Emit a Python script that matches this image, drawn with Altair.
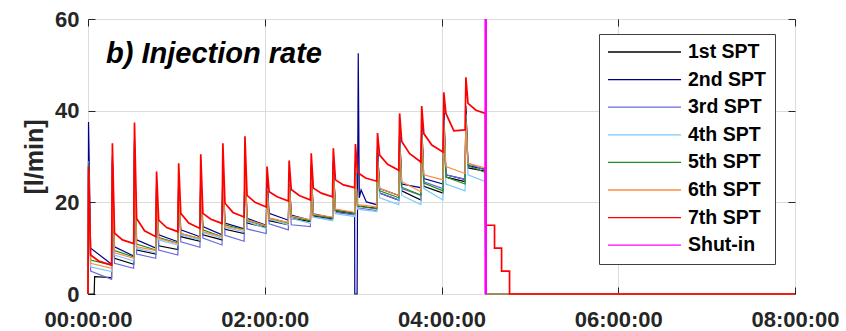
import altair as alt
import pandas as pd

FONT = "Liberation Sans"
TITLE = "b) Injection rate"

SERIES = ["1st SPT", "2nd SPT", "3rd SPT", "4th SPT", "5th SPT", "6th SPT", "7th SPT", "Shut-in"]
COLORS = ["#000000", "#00008b", "#6a6ae0", "#7fc8ff", "#1e8c1e", "#ff8a3d", "#ff0000", "#ff00ff"]

# times (hours) of the pressure steps
SPIKE_T = [0.00, 0.27, 0.52, 0.77, 1.02, 1.27, 1.52, 1.77, 2.02, 2.27, 2.52, 2.77, 3.02, 3.27, 3.52, 3.77, 4.02, 4.27]
SHUT_IN_T = 4.50
END_T = 8.00

# peak rate at each step [l/min]
PEAK_1 = [0.0, 30.0, 33.5, 24.0, 25.5, 27.5, 29.5, 31.0, 25.0, 26.5, 28.0, 29.0, 28.5, 32.0, 36.0, 38.0, 40.5, 41.0]
PEAK_2 = [37.5, 29.0, 32.5, 23.5, 25.0, 26.8, 29.0, 30.5, 24.5, 26.0, 27.5, 28.5, 52.5, 31.5, 35.0, 37.0, 39.5, 40.0]
PEAK_3 = [29.0, 28.0, 31.5, 22.5, 24.0, 26.0, 28.0, 29.5, 23.5, 25.0, 26.5, 27.5, 27.5, 30.5, 34.0, 36.0, 38.5, 39.5]
PEAK_4 = [27.0, 27.0, 30.5, 22.0, 23.5, 25.5, 27.5, 29.0, 23.0, 24.5, 26.0, 27.0, 27.0, 30.0, 33.5, 35.5, 38.0, 39.0]
PEAK_5 = [28.5, 26.0, 29.5, 21.5, 23.0, 24.5, 26.5, 28.0, 22.5, 24.0, 25.5, 26.5, 26.5, 29.5, 33.0, 35.0, 37.5, 38.5]
PEAK_6 = [26.0, 25.0, 28.5, 21.0, 22.5, 24.0, 26.0, 27.5, 22.0, 23.5, 25.0, 26.0, 26.0, 29.0, 32.5, 34.5, 37.0, 37.5]
PEAK_7 = [27.8, 32.9, 37.4, 26.7, 28.5, 30.5, 32.9, 34.4, 27.8, 29.1, 30.7, 31.8, 32.7, 35.1, 39.4, 41.0, 44.0, 47.3]

# rate just after each step
START_1 = [3.8, 7.8, 9.6, 10.5, 12.5, 12.9, 14.1, 15.5, 16.0, 16.5, 17.0, 18.0, 19.2, 22.0, 22.5, 23.5, 25.5, 27.5]
START_2 = [10.0, 10.3, 11.8, 12.9, 14.0, 14.7, 15.5, 16.5, 17.6, 17.2, 17.5, 18.3, 22.7, 23.0, 24.0, 25.2, 26.0, 28.0]
START_3 = [5.0, 6.7, 8.7, 9.6, 11.4, 12.2, 12.8, 14.2, 15.3, 15.1, 16.8, 17.8, 18.8, 22.0, 23.0, 24.5, 26.0, 28.5]
START_4 = [5.9, 8.5, 10.0, 11.8, 12.9, 13.4, 14.5, 15.8, 16.3, 16.5, 16.8, 17.5, 18.5, 21.0, 21.5, 23.0, 24.0, 26.0]
START_5 = [7.4, 9.5, 10.9, 12.3, 13.2, 14.0, 15.1, 16.0, 16.5, 16.9, 17.2, 18.2, 19.2, 22.5, 23.3, 24.2, 25.5, 28.0]
START_6 = [6.7, 9.0, 10.3, 12.1, 13.2, 13.6, 14.7, 16.2, 16.6, 17.0, 17.4, 18.5, 19.5, 23.0, 24.5, 26.0, 27.8, 28.5]
START_7 = [8.5, 13.3, 16.5, 16.1, 17.6, 17.6, 19.8, 21.5, 22.3, 22.8, 23.1, 24.9, 26.5, 30.3, 33.3, 35.0, 39.4, 41.6]

# rate just before the next step
END_1 = [3.6, 6.5, 8.7, 9.7, 11.5, 11.8, 13.2, 14.5, 15.1, 15.8, 16.4, 17.5, 18.7, 20.5, 20.5, 22.0, 24.5, 26.8]
END_2 = [6.5, 8.3, 10.0, 11.4, 12.5, 12.9, 14.2, 15.0, 16.1, 16.1, 16.6, 17.6, 19.5, 21.5, 23.2, 24.0, 25.0, 27.2]
END_3 = [3.2, 5.6, 7.8, 8.5, 10.2, 10.7, 11.5, 13.2, 14.0, 14.7, 16.2, 17.2, 18.2, 20.5, 21.5, 23.0, 25.0, 27.0]
END_4 = [4.9, 7.2, 9.0, 10.7, 11.8, 12.2, 13.6, 14.3, 15.1, 15.4, 16.0, 16.9, 18.0, 19.5, 19.5, 20.5, 22.5, 24.5]
END_5 = [6.3, 8.1, 9.6, 11.1, 12.1, 12.5, 14.0, 14.8, 15.5, 16.0, 16.5, 17.5, 18.6, 21.0, 21.6, 22.5, 24.0, 26.5]
END_6 = [5.6, 7.8, 9.5, 11.0, 12.1, 12.5, 14.0, 14.9, 15.6, 16.2, 16.8, 17.8, 19.0, 21.5, 22.3, 24.9, 26.3, 27.5]
END_7 = [6.3, 11.0, 12.5, 13.6, 14.3, 15.4, 16.8, 19.0, 20.3, 20.5, 21.2, 23.2, 24.6, 27.0, 28.8, 31.0, 35.8, 39.4]

# 7th SPT level a little after the step
MID_7 = [7.2, 11.8, 13.8, 14.5, 15.5, 16.3, 17.8, 20.0, 21.2, 21.5, 22.0, 23.8, 25.3, 28.3, 30.6, 32.5, 35.6, 40.1]

# special segments
BLACK_DELAY_T = [0.070, 0.075]
BLACK_DELAY_V = [0.0, 3.8]
DBLUE_GLITCH_T = [3.019, 3.045, 3.058, 3.070, 3.090, 3.150]
DBLUE_GLITCH_V = [0.0, 0.0, 52.5, 21.0, 22.7, 20.1]
RED_TAIL_T = [4.50, 4.60, 4.60, 4.68, 4.68, 4.77, 4.77, 8.00]
RED_TAIL_V = [15.0, 15.0, 10.0, 10.0, 5.0, 5.0, 0.0, 0.0]
SHUTIN_T = [4.50, 4.50]
SHUTIN_V = [0.0, 60.0]

PEAKS = [PEAK_1, PEAK_2, PEAK_3, PEAK_4, PEAK_5, PEAK_6, PEAK_7]
STARTS = [START_1, START_2, START_3, START_4, START_5, START_6, START_7]
ENDS = [END_1, END_2, END_3, END_4, END_5, END_6, END_7]

rows = []


def add(name, t, v):
    rows.append({"series": name, "t": t, "v": v, "idx": len(rows)})


for i, name in enumerate(SERIES[:7]):
    add(name, 0.0, 0.0)
    for k, tk in enumerate(SPIKE_T):
        t_next = SPIKE_T[k + 1] if k + 1 < len(SPIKE_T) else SHUT_IN_T
        if name == "2nd SPT" and k == 12:
            for t, v in zip(DBLUE_GLITCH_T, DBLUE_GLITCH_V):
                add(name, t, v)
        else:
            add(name, tk + 0.006, PEAKS[i][k])
            if name == "1st SPT" and k == 0:
                for t, v in zip(BLACK_DELAY_T, BLACK_DELAY_V):
                    add(name, t, v)
            else:
                add(name, tk + 0.03, STARTS[i][k])
            if name == "7th SPT":
                add(name, tk + 0.12, MID_7[k])
        add(name, t_next - 0.003, ENDS[i][k])
    if name == "7th SPT":
        for t, v in zip(RED_TAIL_T, RED_TAIL_V):
            add(name, t, v)
    else:
        add(name, SHUT_IN_T, 0.0)
        add(name, END_T, 0.0)
for t, v in zip(SHUTIN_T, SHUTIN_V):
    add("Shut-in", t, v)

df = pd.DataFrame(rows)

W, H = 707, 275
X_TICKS = [0, 2, 4, 6, 8]
Y_TICKS = [0, 20, 40, 60]
AX = "#262626"

xscale = alt.Scale(domain=[0, 8], nice=False)
yscale = alt.Scale(domain=[0, 60], nice=False)

legend = alt.Legend(
    orient="none", legendX=511, legendY=15, title=None,
    symbolType="stroke", symbolSize=5329, clipHeight=20, rowPadding=7.6,
    labelFont=FONT, labelFontSize=19.5, labelFontWeight="bold", labelColor="#000000",
    labelOffset=6, padding=8, strokeColor="#404040", fillColor="#ffffff",
    symbolStrokeWidth=1.3,
)


def tick_axis(orient, offset, values):
    return alt.Axis(orient=orient, offset=offset, values=values, labels=False, ticks=True,
                    tickSize=7, tickColor=AX, tickWidth=1, domain=False, grid=False, title=None)


def layer(names, xaxis, yaxis, with_legend, width):
    return alt.Chart(df).transform_filter(
        alt.FieldOneOfPredicate(field="series", oneOf=names)
    ).mark_line(strokeCap="butt", strokeJoin="miter", interpolate="linear", strokeWidth=width).encode(
        x=alt.X("t:Q", scale=xscale, axis=xaxis),
        y=alt.Y("v:Q", scale=yscale, axis=yaxis),
        color=alt.Color("series:N", scale=alt.Scale(domain=SERIES, range=COLORS),
                        legend=legend if with_legend else None),
        order=alt.Order("idx:Q"),
    )


x_main = alt.Axis(orient="bottom", values=X_TICKS, labelExpr="'0' + datum.value + ':00:00'",
                  grid=True, gridColor="#dcdcdc", gridWidth=1, domain=False, ticks=False, tickSize=0,
                  labelFont=FONT, labelFontSize=22, labelFontWeight="bold", labelColor=AX,
                  labelPadding=15, labelFlush=False, labelOverlap=False, title=None)
y_main = alt.Axis(orient="left", values=Y_TICKS, grid=True, gridColor="#dcdcdc", gridWidth=1,
                  domain=False, ticks=False, tickSize=0,
                  labelFont=FONT, labelFontSize=22, labelFontWeight="bold", labelColor=AX,
                  labelPadding=9, labelFlush=False, labelOverlap=False,
                  title="[l/min]", titleFont=FONT, titleFontSize=25, titleFontWeight="bold",
                  titleColor=AX, titleAngle=270, titleX=-41, titleY=H / 2,
                  titleBaseline="bottom", titleAlign="center")

l1 = layer(SERIES[:6], x_main, y_main, True, 1.2)
l2 = layer(["7th SPT"], tick_axis("top", -H, X_TICKS), tick_axis("right", -W, Y_TICKS), False, 1.7)
l3 = layer(["Shut-in"], tick_axis("bottom", -H, X_TICKS), tick_axis("left", -W, Y_TICKS), False, 2.6)

title = alt.Chart(pd.DataFrame({"label": [TITLE]})).mark_text(
    font=FONT, fontSize=29, fontWeight="bold", fontStyle="italic", color="#000000",
    align="left", baseline="alphabetic",
).encode(text="label:N", x=alt.value(18), y=alt.value(44))

chart = alt.layer(l1, l2, l3, title).resolve_axis(x="independent", y="independent").properties(
    width=W, height=H,
    autosize=alt.AutoSizeParams(type="none"),
    padding={"left": 88, "top": 19, "right": 51, "bottom": 37},
).configure_view(stroke=AX, strokeWidth=1).configure(background="#ffffff")

chart.save("out.html", embed_options={"renderer": "svg", "actions": False})
